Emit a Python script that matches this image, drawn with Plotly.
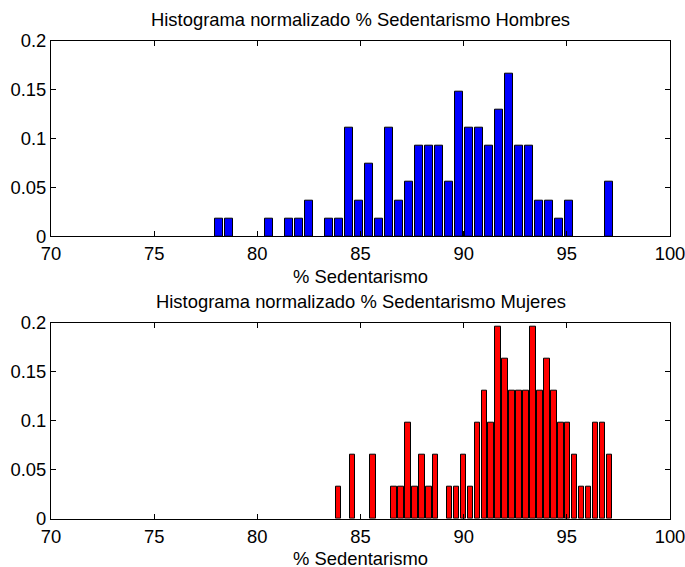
import plotly.graph_objects as go

# Histogram bins: first bin centre, bin width, counts per bin (40 bins each)
men_first_center = 78.15
men_bin_width = 0.484
men_counts = [1, 1, 0, 0, 0, 1, 0, 1, 1, 2,
              0, 1, 1, 6, 2, 4, 1, 6, 2, 3,
              5, 5, 5, 3, 8, 6, 6, 5, 7, 9,
              5, 5, 2, 2, 1, 2, 0, 0, 0, 3]

women_first_center = 83.93
women_bin_width = 0.3367
women_counts = [1, 0, 2, 0, 0, 2, 0, 0, 1, 1,
                3, 1, 2, 1, 2, 0, 1, 1, 2, 1,
                3, 4, 3, 6, 5, 4, 4, 4, 6, 4,
                5, 4, 3, 3, 2, 1, 1, 3, 3, 2]

x_ticks = [70, 75, 80, 85, 90, 95, 100]
y_ticks = [0, 0.05, 0.1, 0.15, 0.2]
y_tick_text = ["0", "0.05", "0.1", "0.15", "0.2"]

titles = ["Histograma normalizado % Sedentarismo Hombres",
          "Histograma normalizado % Sedentarismo Mujeres"]
x_label = "% Sedentarismo"

FONT = "Liberation Sans, Arial, Helvetica, sans-serif"
FS = 18.4
W, H = 685, 567


def density(first_center, width, counts):
    """Bin centres and area-normalised heights (count / (N * width))."""
    n = sum(counts)
    centers = [first_center + k * width for k in range(len(counts))]
    heights = [c / (n * width) for c in counts]
    return centers, heights


fig = go.Figure()

series = [
    (men_first_center, men_bin_width, men_counts, "#0000FF", "x", "y"),
    (women_first_center, women_bin_width, women_counts, "#FF0000", "x2", "y2"),
]
for first, width, counts, color, xa, ya in series:
    cx, hy = density(first, width, counts)
    fig.add_trace(go.Bar(
        x=cx, y=hy, width=[0.8 * width] * len(cx),
        marker=dict(color=color,
                    line=dict(color="black",
                              width=[1 if c > 0 else 0 for c in counts])),
        xaxis=xa, yaxis=ya, showlegend=False, hoverinfo="x+y",
    ))

# Axes boxes in pixel coordinates (top, bottom) sharing left/right edges
x_left, x_right = 51, 670
boxes = [(40.7, 236.3), (322.7, 518.7)]
x_mid = (x_left + x_right) / 2 / W

axis_common = dict(
    showline=True, linecolor="black", linewidth=1, mirror="ticks",
    ticks="inside", ticklen=5, tickcolor="black", tickwidth=1,
    showgrid=False, zeroline=False, automargin=False,
    ticklabeloverflow="allow",
    tickfont=dict(family=FONT, size=FS, color="black"),
)

layout = dict(
    width=W, height=H,
    margin=dict(l=0, r=0, t=0, b=0, autoexpand=False),
    paper_bgcolor="white", plot_bgcolor="white",
    font=dict(family=FONT, size=FS, color="black"),
    bargap=0,
    annotations=[],
)


def text_label(text, y_px, box_height=None):
    return dict(
        text=text, xref="paper", yref="paper",
        x=x_mid, y=1 - y_px / H, height=box_height,
        xanchor="center", yanchor="middle", showarrow=False,
        font=dict(family=FONT, size=FS, color="black"),
    )


for i, (top, bottom) in enumerate(boxes):
    suffix = "" if i == 0 else str(i + 1)
    layout["xaxis" + suffix] = dict(
        axis_common,
        domain=[x_left / W, x_right / W],
        range=[70, 100], tickvals=x_ticks,
        ticklabelstandoff=1,
        anchor="y" + suffix,
    )
    layout["yaxis" + suffix] = dict(
        axis_common,
        domain=[1 - bottom / H, 1 - top / H],
        range=[0, 0.2], tickvals=y_ticks, ticktext=y_tick_text,
        ticklabelstandoff=0,
        anchor="x" + suffix,
    )
    # subplot title above the box, x-axis label below it (tight box so it
    # stays inside the page under the tick labels)
    layout["annotations"].append(text_label(titles[i], top - 21))
    layout["annotations"].append(text_label(x_label, min(bottom + 40, H - 9.5), 18))

fig.update_layout(**layout)
fig.write_html("out.html")
